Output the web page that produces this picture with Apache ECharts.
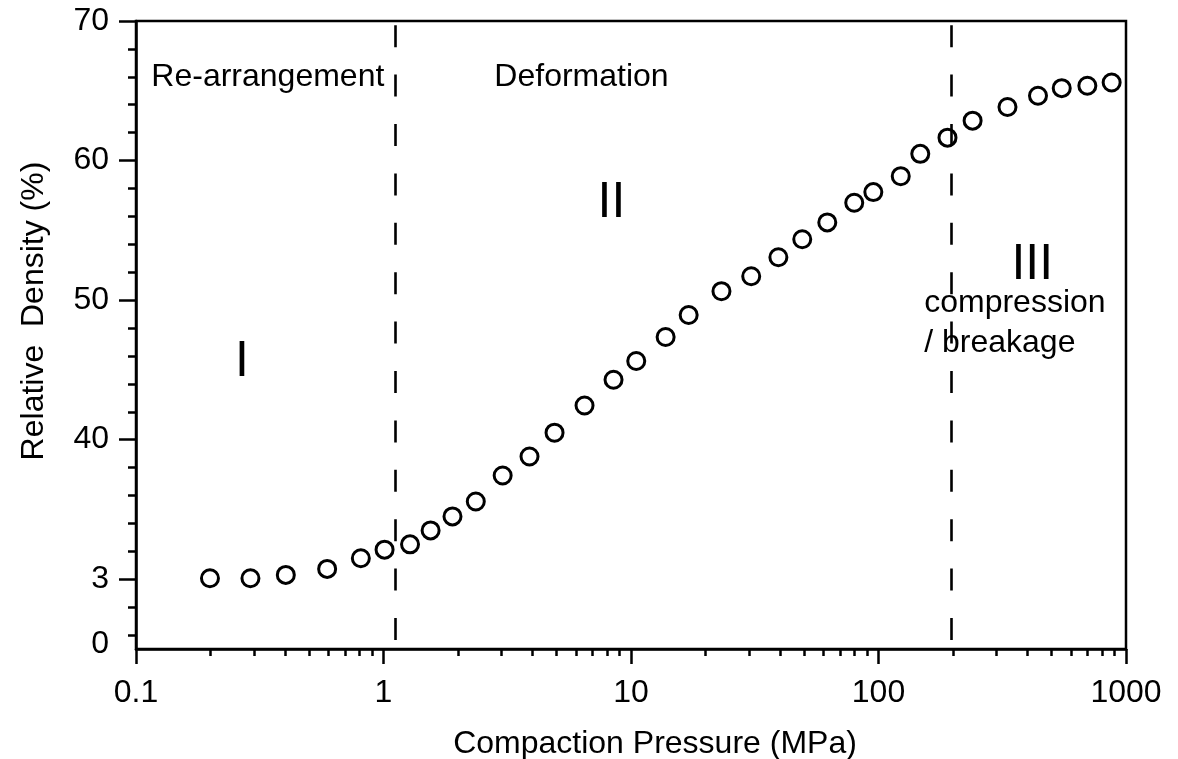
<!DOCTYPE html>
<html>
<head>
<meta charset="utf-8">
<script src="https://cdn.jsdelivr.net/npm/echarts@6/dist/echarts.min.js"></script>
<style>
html,body{margin:0;padding:0;background:#fff;}
#chart{width:1178px;height:759px;}
</style>
</head>
<body>
<div id="chart"></div>
<script>
// ---- data ----
var pressure = [0.199, 0.29, 0.403, 0.592, 0.81, 1.01, 1.28, 1.55, 1.9, 2.36, 3.03, 3.89, 4.91, 6.49, 8.5, 10.5, 13.8, 17.1, 23.2, 30.6, 39.4, 49.2, 62.1, 79.8, 95.3, 123, 147.5, 190, 240, 332, 441, 550, 698, 875];
var density  = [30.07, 30.07, 30.31, 30.74, 31.5, 32.12, 32.5, 33.5, 34.5, 35.57, 37.43, 38.79, 40.5, 42.45, 44.29, 45.64, 47.36, 48.93, 50.64, 51.71, 53.07, 54.36, 55.57, 56.98, 57.74, 58.88, 60.48, 61.64, 62.86, 63.84, 64.64, 65.19, 65.36, 65.59];

var regionBoundaries = [1.12, 197];

var xTickValues = [0.1, 1, 10, 100, 1000];
var xTickLabels = ['0.1', '1', '10', '100', '1000'];
var xMinorTicks = [0.2,0.3,0.4,0.5,0.6,0.7,0.8,0.9, 2,3,4,5,6,7,8,9, 20,30,40,50,60,70,80,90, 200,300,400,500,600,700,800,900];

var yTickValues = [30, 40, 50, 60, 70];
var yLabelValues = [25.35, 30, 40, 50, 60, 70];
var yTickLabels = ['0', '3', '40', '50', '60', '70'];
var yMinorTicks = [26,28, 32,34,36,38, 42,44,46,48, 52,54,56,58, 62,64,66,68];

var annoText = ['Re-arrangement', 'Deformation', 'I', 'II', 'III', 'compression', '/ breakage'];
var annoX    = [0.341, 6.31, 0.268, 8.34, 418, 153, 153];
var annoY    = [65.95, 65.95, 45.53, 56.95, 52.53, 49.75, 46.95];

// ---- chart ----
var FONT = "'Liberation Sans', Arial, sans-serif";
var FS = 32;
var chart = echarts.init(document.getElementById('chart'), null, {renderer: 'canvas'});

var points = pressure.map(function (p, i) { return [p, density[i]]; });

var bigSet = {'I':1, 'II':1, 'III':1};
var leftSet = {'compression':1, '/ breakage':1};
var annoData = annoText.map(function (t, i) {
  return {
    value: [annoX[i], annoY[i]],
    label: {
      formatter: t,
      color: '#000',
      fontSize: bigSet[t] ? 50 : FS,
      align: leftSet[t] ? 'left' : 'center'
    }
  };
});

var option = {
  animation: false,
  backgroundColor: '#fff',
  textStyle: {fontFamily: FONT, color: '#000'},
  grid: {
    left: 136, right: 52, top: 21, bottom: 110,
    outerBoundsMode: 'none', containLabel: false,
    show: true, borderColor: '#000', borderWidth: 2.5, backgroundColor: 'transparent'
  },
  xAxis: [{
    type: 'log', logBase: 10, min: 0.1, max: 1000, position: 'bottom',
    name: 'Compaction Pressure (MPa)', nameLocation: 'middle', nameGap: 79,
    nameTextStyle: {fontSize: FS, color: '#000', fontFamily: FONT, padding: [0, 0, 0, 48]},
    axisLine: {show: true, lineStyle: {color: '#000', width: 2.5}},
    axisTick: {show: true, inside: false, length: 15, lineStyle: {color: '#000', width: 2.5}, customValues: xTickValues},
    axisLabel: {
      show: true, margin: 28, fontSize: FS, color: '#000', fontFamily: FONT,
      customValues: xTickValues,
      formatter: function (v) {
        for (var i = 0; i < xTickValues.length; i++) { if (Math.abs(Math.log10(v) - Math.log10(xTickValues[i])) < 1e-6) return xTickLabels[i]; }
        return '';
      }
    },
    splitLine: {show: false}
  }, {
    type: 'log', logBase: 10, min: 0.1, max: 1000, position: 'bottom', gridIndex: 0,
    axisLine: {show: false},
    axisTick: {show: true, inside: false, length: 7, lineStyle: {color: '#000', width: 2.5}, customValues: xMinorTicks},
    axisLabel: {show: false},
    splitLine: {show: false}
  }],
  yAxis: [{
    type: 'value', min: 25, max: 70, position: 'left',
    name: 'Relative  Density (%)', nameLocation: 'middle', nameGap: 86,
    nameTextStyle: {fontSize: FS, color: '#000', fontFamily: FONT, padding: [0, 0, 0, 48]},
    axisLine: {show: true, lineStyle: {color: '#000', width: 2.5}},
    axisTick: {show: true, inside: false, length: 17, lineStyle: {color: '#000', width: 2.5}, customValues: yTickValues},
    axisLabel: {
      show: true, margin: 27, fontSize: FS, color: '#000', fontFamily: FONT,
      customValues: yLabelValues,
      formatter: function (v) {
        for (var i = 0; i < yLabelValues.length; i++) { if (Math.abs(v - yLabelValues[i]) < 1e-6) return yTickLabels[i]; }
        return '';
      }
    },
    splitLine: {show: false}
  }, {
    type: 'value', min: 25, max: 70, position: 'left', gridIndex: 0,
    axisLine: {show: false},
    axisTick: {show: true, inside: false, length: 8, lineStyle: {color: '#000', width: 2.5}, customValues: yMinorTicks},
    axisLabel: {show: false},
    splitLine: {show: false}
  }],
  series: [{
    name: 'Relative density',
    type: 'scatter',
    xAxisIndex: 0, yAxisIndex: 0,
    symbol: 'circle', symbolSize: 17,
    itemStyle: {color: 'rgba(255,255,255,0)', borderColor: '#000', borderWidth: 3, opacity: 1},
    data: points,
    z: 5,
    markLine: {
      silent: true, symbol: ['none', 'none'],
      label: {show: false},
      lineStyle: {color: '#000', width: 2.6, type: [22, 27.4], dashOffset: 40.4},
      data: regionBoundaries.map(function (b) { return {xAxis: b}; })
    }
  }, {
    name: 'annotations',
    type: 'scatter',
    xAxisIndex: 0, yAxisIndex: 0,
    symbolSize: 0.1,
    itemStyle: {color: '#fff'},
    silent: true,
    label: {show: true, position: 'inside', color: '#000', opacity: 1, textBorderWidth: 0, fontFamily: FONT, fontSize: FS},
    labelLayout: {hideOverlap: false},
    data: annoData,
    z: 6
  }]
};
chart.setOption(option);
</script>
</body>
</html>
